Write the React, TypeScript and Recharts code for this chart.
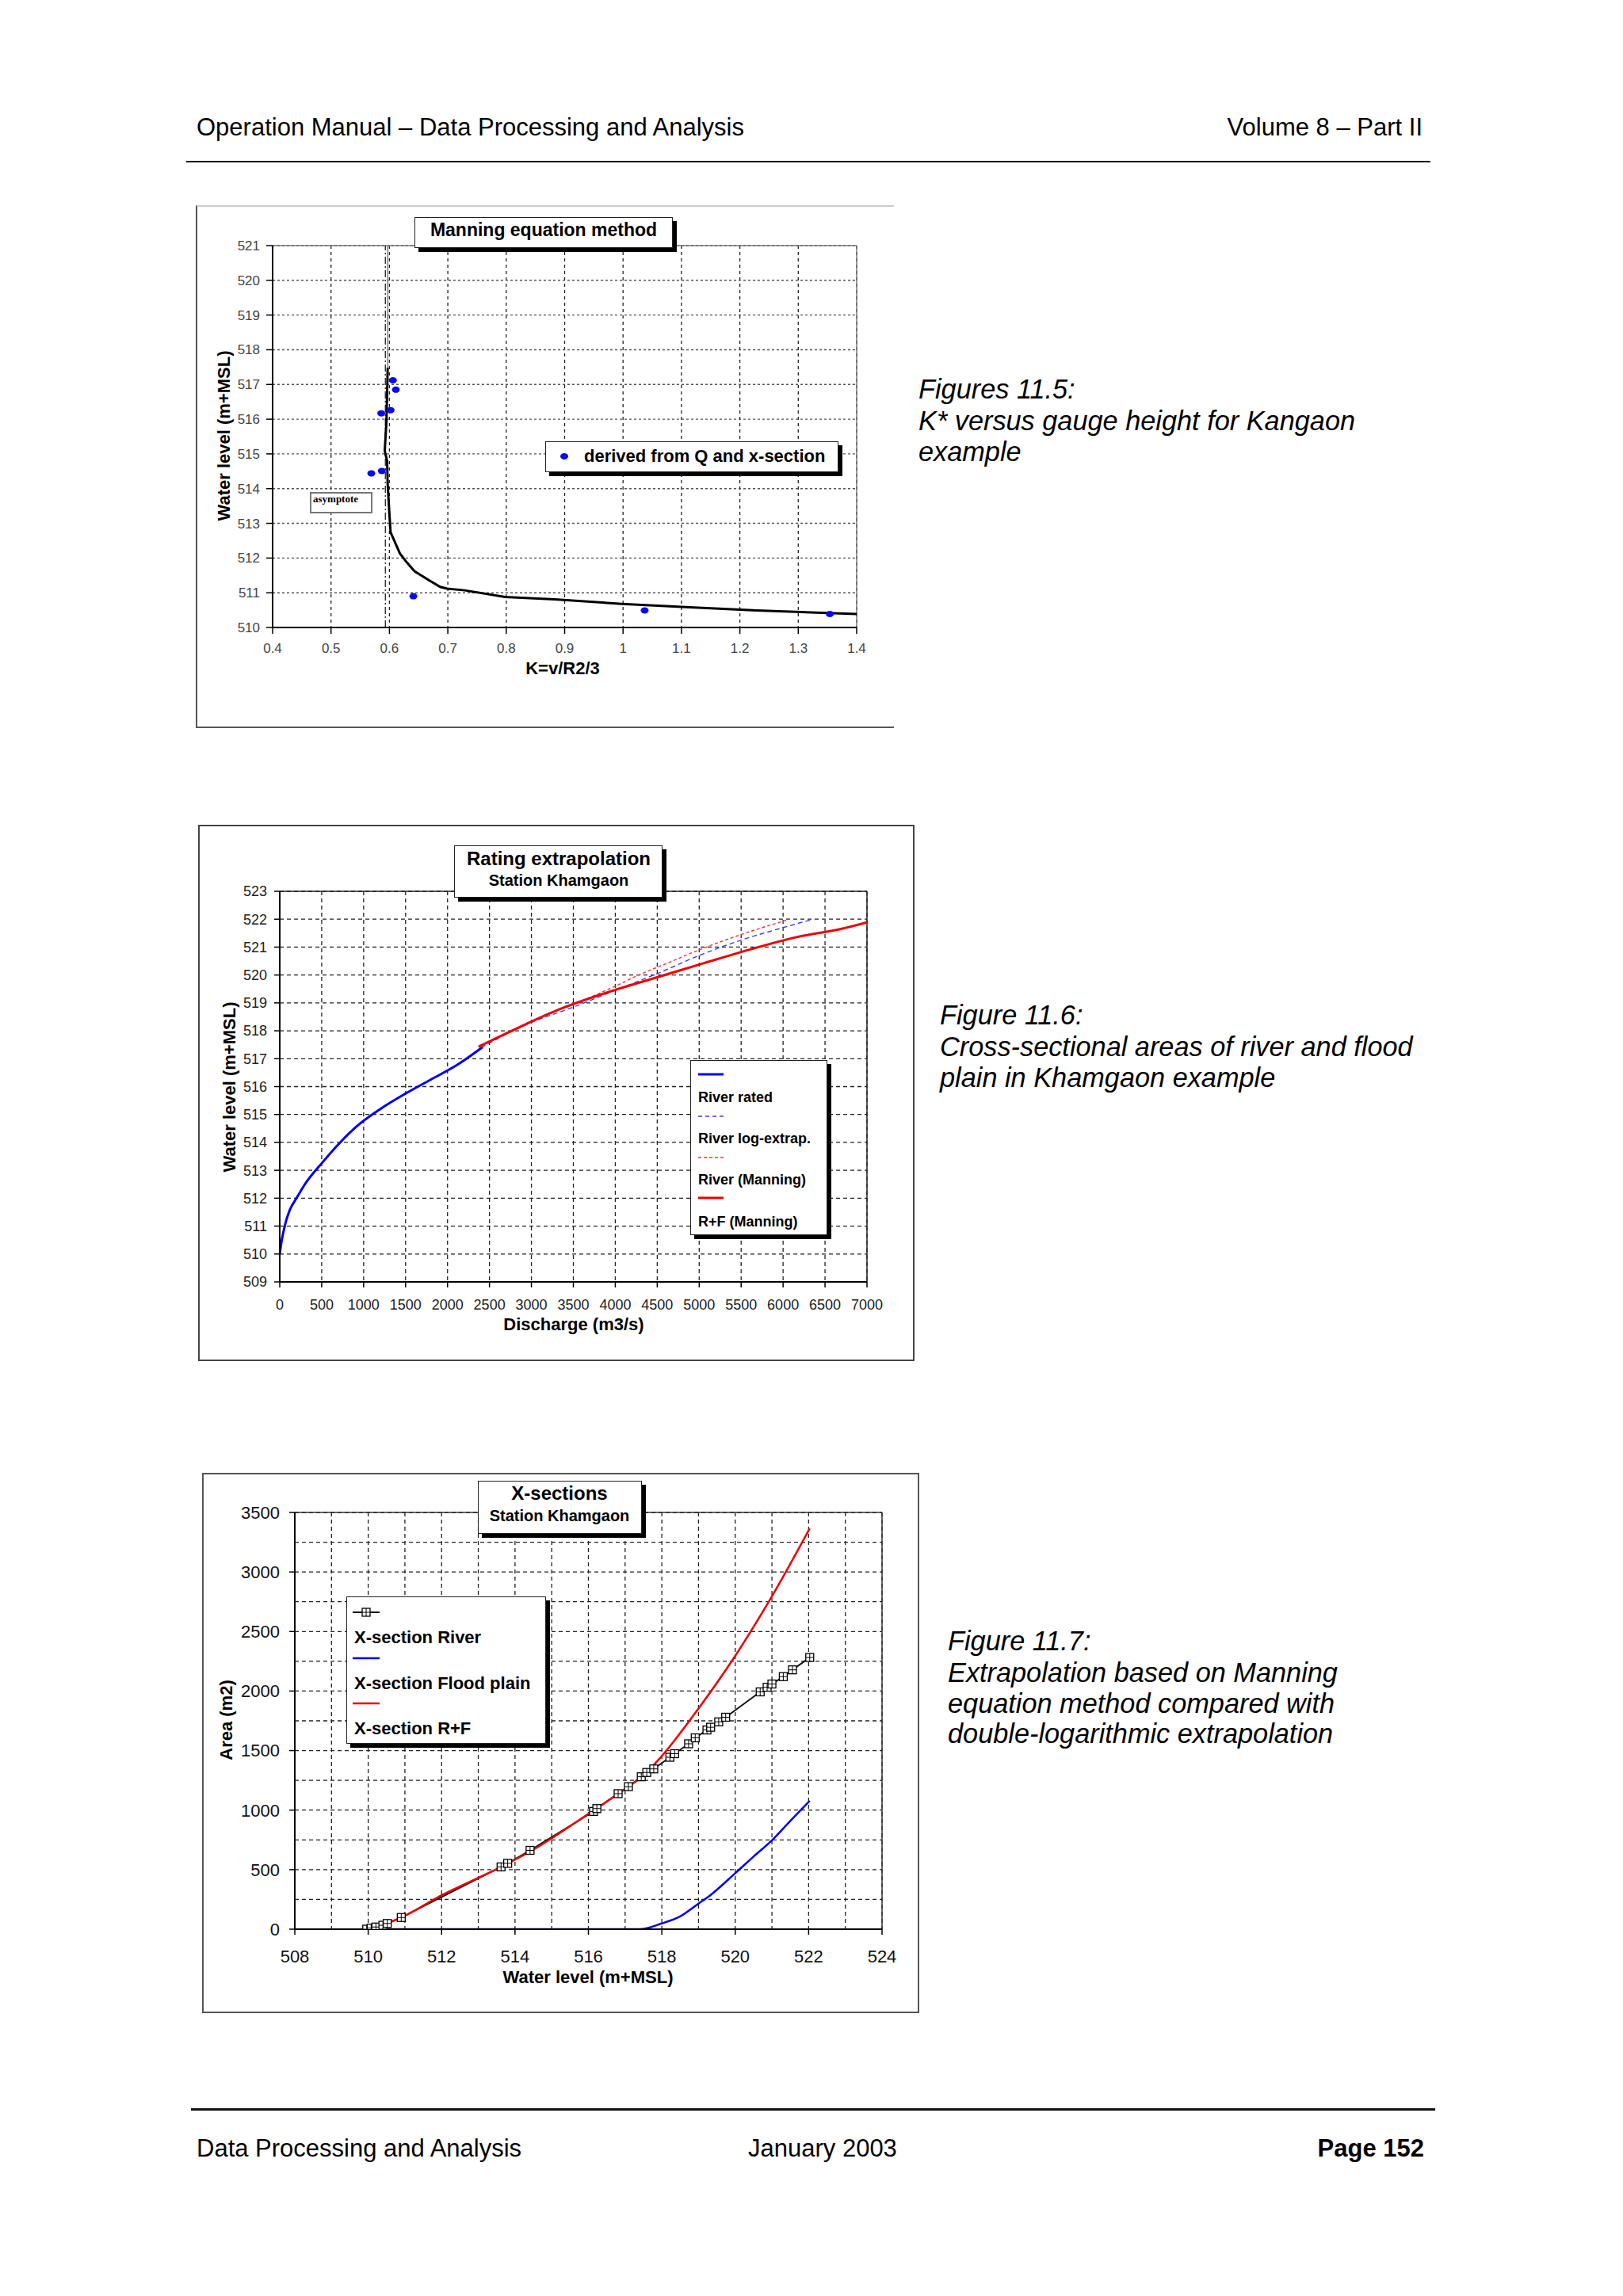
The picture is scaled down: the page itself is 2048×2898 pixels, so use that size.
import React from "react";
import {
  ComposedChart,
  Line,
  Scatter,
  XAxis,
  YAxis,
  CartesianGrid,
  ReferenceLine,
} from "recharts";

const FONT = '"Liberation Sans", Arial, Helvetica, sans-serif';
const SERIF = '"Liberation Serif", "Times New Roman", serif';

// ---- Figure 11.5: K versus gauge height ----
const kTicks = [0.4, 0.5, 0.6, 0.7, 0.8, 0.9, 1, 1.1, 1.2, 1.3, 1.4];
const kMinorTicks = [0.45, 0.55, 0.65, 0.75, 0.85, 0.95, 1.05, 1.15, 1.25, 1.35];
const gaugeTicks = [510, 511, 512, 513, 514, 515, 516, 517, 518, 519, 520, 521];
const gaugeMinorTicks = [510.5, 511.5, 512.5, 513.5, 514.5, 515.5, 516.5, 517.5, 518.5, 519.5, 520.5];

const curveK = [0.597, 0.595, 0.592, 0.596, 0.597, 0.6, 0.602, 0.618, 0.63, 0.643, 0.668, 0.687, 0.699, 0.729, 0.798, 0.883, 0.998, 1.114, 1.229, 1.4];
const curveLevel = [517.48, 515.96, 515.09, 514.8, 514.13, 513.26, 512.74, 512.13, 511.87, 511.62, 511.36, 511.17, 511.12, 511.07, 510.88, 510.81, 510.68, 510.58, 510.49, 510.39];

const obsK = [0.606, 0.611, 0.602, 0.586, 0.569, 0.587, 0.641, 1.037, 1.354];
const obsLevel = [517.12, 516.85, 516.26, 516.17, 514.44, 514.51, 510.9, 510.49, 510.39];

const asymptoteK = 0.593;
const greyK = 0.597;
const greyLevels = [517.48, 521];

// ---- Figure 11.6: rating extrapolation ----
const qTicks = [0, 500, 1000, 1500, 2000, 2500, 3000, 3500, 4000, 4500, 5000, 5500, 6000, 6500, 7000];
const qMinorTicks = [250, 750, 1250, 1750, 2250, 2750, 3250, 3750, 4250, 4750, 5250, 5750, 6250, 6750];
const ratingTicks = [509, 510, 511, 512, 513, 514, 515, 516, 517, 518, 519, 520, 521, 522, 523];
const ratingMinorTicks = [509.5, 510.5, 511.5, 512.5, 513.5, 514.5, 515.5, 516.5, 517.5, 518.5, 519.5, 520.5, 521.5, 522.5];

const ratedQ = [0, 22, 66, 120, 200, 300, 500, 720, 915, 1200, 1500, 1800, 2100, 2420];
const ratedLevel = [510.0, 510.46, 511.08, 511.58, 512.0, 512.5, 513.25, 514.0, 514.57, 515.2, 515.75, 516.25, 516.75, 517.42];

const logQ = [2400, 3000, 3500, 4000, 4500, 5000, 5500, 6000, 6360];
const logLevel = [517.4, 518.3, 518.85, 519.45, 520.05, 520.7, 521.25, 521.7, 522.0];

const riverManQ = [2400, 3000, 3500, 4000, 4280, 4600, 5000, 5500, 6080];
const riverManLevel = [517.45, 518.35, 518.95, 519.6, 520.0, 520.4, 520.9, 521.45, 522.0];

const rfManQ = [2370, 2800, 3300, 3950, 4500, 5050, 5600, 6150, 6700, 7000];
const rfManLevel = [517.43, 518.05, 518.73, 519.42, 519.92, 520.42, 520.91, 521.35, 521.66, 521.89];

// ---- Figure 11.7: cross-sections ----
const wlTicks = [508, 510, 512, 514, 516, 518, 520, 522, 524];
const wlGrid = [508, 509, 510, 511, 512, 513, 514, 515, 516, 517, 518, 519, 520, 521, 522, 523, 524];
const areaTicks = [0, 500, 1000, 1500, 2000, 2500, 3000, 3500];
const areaGrid = [0, 250, 500, 750, 1000, 1250, 1500, 1750, 2000, 2250, 2500, 2750, 3000, 3250, 3500];

const riverWl = [509.96, 510.08, 510.21, 510.4, 510.52, 510.9, 513.62, 513.8, 514.41, 516.14, 516.23, 516.81, 517.09, 517.44, 517.59, 517.78, 518.22, 518.35, 518.73, 518.91, 519.23, 519.33, 519.55, 519.74, 520.68, 520.87, 521.0, 521.31, 521.56, 522.03];
const riverArea = [0, 9, 18, 33, 48, 98, 523, 553, 662, 989, 1013, 1138, 1197, 1280, 1316, 1346, 1444, 1474, 1557, 1607, 1673, 1696, 1741, 1780, 1993, 2032, 2059, 2121, 2178, 2282];

const floodWl = [510.0, 517.4, 518.0, 518.5, 519.0, 519.3, 520.0, 520.5, 521.0, 521.5, 522.03];
const floodArea = [0, 0, 48, 107, 215, 280, 470, 610, 746, 909, 1078];

const rfWl = [510.0, 510.9, 512.0, 513.62, 514.44, 516.14, 517.09, 517.46, 517.97, 518.98, 519.99, 521.0, 522.03];
const rfArea = [0, 98, 285, 523, 657, 998, 1197, 1280, 1444, 1845, 2291, 2796, 3366];

const pts = (xs: number[], ys: number[]) => xs.map((x, i) => ({ x, y: ys[i] }));

const AXIS = { stroke: "#000", strokeWidth: 2 };
const TICKLINE = { stroke: "#000", strokeWidth: 1.5 };

function Txt({ x, base, size, bold, italic, align = "left", color = "#000", family = FONT, children }: any) {
  const style: React.CSSProperties = {
    position: "absolute",
    top: base - 0.8465 * size,
    fontSize: size,
    lineHeight: `${size}px`,
    fontFamily: family,
    fontWeight: bold ? 700 : 400,
    fontStyle: italic ? "italic" : "normal",
    color,
    whiteSpace: "nowrap",
  };
  if (align === "left") style.left = x;
  else if (align === "right") style.right = 2048 - x;
  else {
    style.left = x;
    style.transform = "translateX(-50%)";
  }
  return <div style={style}>{children}</div>;
}

function VTxt({ cx, cy, size, children }: any) {
  return (
    <div
      style={{
        position: "absolute",
        left: cx,
        top: cy,
        transform: "translate(-50%, -50%) rotate(-90deg)",
        fontSize: size,
        lineHeight: `${size}px`,
        fontFamily: FONT,
        fontWeight: 700,
        whiteSpace: "nowrap",
      }}
    >
      {children}
    </div>
  );
}

function Box({ x, y, w, h, shadow = 5, border = "1px solid #222" }: any) {
  return (
    <div
      style={{
        position: "absolute",
        left: x,
        top: y,
        width: w,
        height: h,
        boxSizing: "border-box",
        border,
        background: "#fff",
        boxShadow: shadow ? `${shadow}px ${shadow}px 0 #000` : "none",
      }}
    />
  );
}

function Rule({ x1, x2, y, h }: any) {
  return <div style={{ position: "absolute", left: x1, top: y, width: x2 - x1, height: h, background: "#111" }} />;
}

function SquareMark({ cx, cy }: any) {
  return (
    <g>
      <rect x={cx - 5} y={cy - 5} width={10} height={10} fill="#fff" stroke="#000" strokeWidth={1.3} />
      <line x1={cx - 5} y1={cy} x2={cx + 5} y2={cy} stroke="#000" strokeWidth={1} />
      <line x1={cx} y1={cy - 5} x2={cx} y2={cy + 5} stroke="#000" strokeWidth={1} />
    </g>
  );
}

function Sample({ x1, x2, y, color, width = 3, dash, marker }: any) {
  const w = x2 - x1;
  return (
    <svg style={{ position: "absolute", left: x1, top: y - 7 }} width={w} height={14}>
      <line x1={0} y1={7} x2={w} y2={7} stroke={color} strokeWidth={width} strokeDasharray={dash} />
      {marker && <SquareMark cx={w / 2} cy={7} />}
    </svg>
  );
}

const renderSquare = (p: any) => {
  if (p.cx == null || p.cy == null) return <g key={p.index} />;
  return <SquareMark key={p.index} cx={p.cx} cy={p.cy} />;
};

const renderDot = (p: any) => <ellipse cx={p.cx} cy={p.cy} rx={5} ry={4} fill="#0a0af0" />;

function KChart() {
  return (
    <div style={{ position: "absolute", left: 247, top: 259 }}>
      <ComposedChart width={881} height={660} margin={{ top: 51, right: 47, left: 0, bottom: 0 }}>
        <CartesianGrid horizontal={false} stroke="#222" strokeDasharray="4 4" strokeWidth={1.3} />
        <CartesianGrid vertical={false} stroke="#555" strokeDasharray="3 3" strokeWidth={1.4} />
        <XAxis
          type="number"
          dataKey="x"
          domain={[0.4, 1.4]}
          ticks={kTicks}
          interval={0}
          allowDataOverflow
          height={127}
          tickSize={8}
          tickMargin={12}
          axisLine={AXIS}
          tickLine={TICKLINE}
          tick={{ fill: "#444", fontSize: 17, fontFamily: FONT }}
        />
        <XAxis xAxisId="minor" type="number" dataKey="x" domain={[0.4, 1.4]} ticks={kMinorTicks} interval={0} allowDataOverflow mirror height={0} tick={false} axisLine={false} tickSize={5} tickLine={TICKLINE} />
        <YAxis
          type="number"
          dataKey="y"
          domain={[510, 521]}
          ticks={gaugeTicks}
          interval={0}
          allowDataOverflow
          width={97}
          tickSize={8}
          tickMargin={8}
          axisLine={AXIS}
          tickLine={TICKLINE}
          tick={{ fill: "#444", fontSize: 17, fontFamily: FONT }}
        />
        <YAxis yAxisId="minor" type="number" dataKey="y" domain={[510, 521]} ticks={gaugeMinorTicks} interval={0} allowDataOverflow mirror width={0} tick={false} axisLine={false} tickSize={5} tickLine={TICKLINE} />
        <ReferenceLine y={521} stroke="#777" strokeWidth={1.5} />
        <ReferenceLine x={1.4} stroke="#777" strokeWidth={1.5} />
        <ReferenceLine x={asymptoteK} stroke="#111" strokeWidth={1.2} strokeDasharray="9 3 2 3" />
        <ReferenceLine segment={[{ x: greyK, y: greyLevels[0] }, { x: greyK, y: greyLevels[1] }]} stroke="#9a9a9a" strokeWidth={2} />
        <Line data={pts(curveK, curveLevel)} dataKey="y" type="linear" stroke="#000" strokeWidth={3} dot={false} isAnimationActive={false} />
        <Scatter data={pts(obsK, obsLevel)} dataKey="y" shape={renderDot} isAnimationActive={false} />
      </ComposedChart>
    </div>
  );
}

function RatingChart() {
  const tick = { fill: "#222", fontSize: 18, fontFamily: FONT };
  return (
    <div style={{ position: "absolute", left: 250, top: 1041 }}>
      <ComposedChart width={904} height={677} margin={{ top: 84, right: 60, left: 0, bottom: 0 }}>
        <CartesianGrid stroke="#222" strokeDasharray="5 4" strokeWidth={1.3} />
        <XAxis type="number" dataKey="x" domain={[0, 7000]} ticks={qTicks} interval={0} allowDataOverflow height={100} tickSize={7} tickMargin={15} axisLine={AXIS} tickLine={TICKLINE} tick={tick} />
        <XAxis xAxisId="minor" type="number" dataKey="x" domain={[0, 7000]} ticks={qMinorTicks} interval={0} allowDataOverflow mirror height={0} tick={false} axisLine={false} tickSize={5} tickLine={TICKLINE} />
        <YAxis type="number" dataKey="y" domain={[509, 523]} ticks={ratingTicks} interval={0} allowDataOverflow width={103} tickSize={7} tickMargin={9} axisLine={AXIS} tickLine={TICKLINE} tick={tick} />
        <YAxis yAxisId="minor" type="number" dataKey="y" domain={[509, 523]} ticks={ratingMinorTicks} interval={0} allowDataOverflow mirror width={0} tick={false} axisLine={false} tickSize={5} tickLine={TICKLINE} />
        <ReferenceLine y={523} stroke="#222" strokeWidth={1.5} />
        <ReferenceLine x={7000} stroke="#222" strokeWidth={1.5} />
        <Line data={pts(ratedQ, ratedLevel)} dataKey="y" type="monotone" stroke="#0000ee" strokeWidth={3} dot={false} isAnimationActive={false} />
        <Line data={pts(logQ, logLevel)} dataKey="y" type="monotone" stroke="#3a3aff" strokeWidth={1.4} strokeDasharray="6 4" dot={false} isAnimationActive={false} />
        <Line data={pts(riverManQ, riverManLevel)} dataKey="y" type="monotone" stroke="#ff3030" strokeWidth={1.4} strokeDasharray="4 3" dot={false} isAnimationActive={false} />
        <Line data={pts(rfManQ, rfManLevel)} dataKey="y" type="monotone" stroke="#ee0000" strokeWidth={3} dot={false} isAnimationActive={false} />
      </ComposedChart>
    </div>
  );
}

function SectionChart() {
  const tick = { fill: "#111", fontSize: 22, fontFamily: FONT };
  return (
    <div style={{ position: "absolute", left: 255, top: 1859 }}>
      <ComposedChart width={905} height={682} margin={{ top: 50, right: 47, left: 0, bottom: 0 }}>
        <CartesianGrid stroke="#222" strokeDasharray="5 4" strokeWidth={1.3} verticalValues={wlGrid} horizontalValues={areaGrid} />
        <XAxis type="number" dataKey="x" domain={[508, 524]} ticks={wlTicks} interval={0} allowDataOverflow height={106} tickSize={7} tickMargin={19} axisLine={AXIS} tickLine={TICKLINE} tick={tick} />
        <YAxis type="number" dataKey="y" domain={[0, 3500]} ticks={areaTicks} interval={0} allowDataOverflow width={117} tickSize={7} tickMargin={12} axisLine={AXIS} tickLine={TICKLINE} tick={tick} />
        <ReferenceLine y={3500} stroke="#333" strokeWidth={1.5} />
        <ReferenceLine x={524} stroke="#333" strokeWidth={1.5} />
        <Line data={pts(riverWl, riverArea)} dataKey="y" type="linear" stroke="#111" strokeWidth={2} dot={renderSquare} isAnimationActive={false} />
        <Line data={pts(floodWl, floodArea)} dataKey="y" type="monotone" stroke="#0000ee" strokeWidth={2.5} dot={false} isAnimationActive={false} />
        <Line data={pts(rfWl, rfArea)} dataKey="y" type="monotone" stroke="#ee0000" strokeWidth={2.5} dot={false} isAnimationActive={false} />
      </ComposedChart>
    </div>
  );
}

export default function App() {
  return (
    <div style={{ position: "absolute", left: 0, top: 0, width: 2048, height: 2898, background: "#fff", overflow: "hidden" }}>
      {/* page header */}
      <Txt x={248} base={171} size={31}>Operation Manual – Data Processing and Analysis</Txt>
      <Txt x={1795} base={171} size={31} align="right">Volume 8 – Part II</Txt>
      <Rule x1={235} x2={1805} y={203} h={2} />

      {/* figure 11.5 */}
      <div style={{ position: "absolute", left: 247, top: 259, width: 881, height: 660, boxSizing: "border-box", borderLeft: "2px solid #555", borderTop: "2px solid #ccc", borderBottom: "2px solid #555" }} />
      <KChart />
      <Box x={523} y={274} w={326} h={39} />
      <Txt x={686} base={298} size={23} bold align="center">Manning equation method</Txt>
      <Box x={688} y={557} w={370} h={39} />
      <svg style={{ position: "absolute", left: 702, top: 568 }} width={20} height={16}>
        <ellipse cx={10} cy={8} rx={5} ry={4} fill="#0a0af0" />
      </svg>
      <Txt x={737} base={584} size={22} bold>derived from Q and x-section</Txt>
      <Box x={391} y={621} w={79} h={27} shadow={0} border="2px solid #777" />
      <Txt x={395} base={634} size={13} bold family={SERIF}>asymptote</Txt>
      <VTxt cx={283} cy={550} size={22}>Water level (m+MSL)</VTxt>
      <Txt x={710} base={852} size={22} bold align="center">K=v/R2/3</Txt>

      <Txt x={1159} base={503} size={34.3} italic>Figures 11.5:</Txt>
      <Txt x={1159} base={543} size={34.3} italic>K* versus gauge height for Kangaon</Txt>
      <Txt x={1159} base={582} size={34.3} italic>example</Txt>

      {/* figure 11.6 */}
      <div style={{ position: "absolute", left: 250, top: 1041, width: 904, height: 677, boxSizing: "border-box", border: "2px solid #444" }} />
      <RatingChart />
      <Box x={573} y={1067} w={263} h={66} />
      <Txt x={705} base={1092} size={24} bold align="center">Rating extrapolation</Txt>
      <Txt x={705} base={1118} size={20} bold align="center">Station Khamgaon</Txt>
      <Box x={871} y={1338} w={173} h={221} />
      <Sample x1={881} x2={913} y={1356} color="#0000ee" width={3} />
      <Txt x={881} base={1391} size={18} bold>River rated</Txt>
      <Sample x1={881} x2={913} y={1409} color="#3a3aff" width={1.4} dash="5 4" />
      <Txt x={881} base={1443} size={18} bold>River log-extrap.</Txt>
      <Sample x1={881} x2={913} y={1461} color="#ff3030" width={1.4} dash="4 3" />
      <Txt x={881} base={1495} size={18} bold>River (Manning)</Txt>
      <Sample x1={881} x2={913} y={1512} color="#ee0000" width={3} />
      <Txt x={881} base={1548} size={18} bold>R+F (Manning)</Txt>
      <VTxt cx={290} cy={1372} size={22}>Water level (m+MSL)</VTxt>
      <Txt x={724} base={1680} size={22} bold align="center">Discharge (m3/s)</Txt>

      <Txt x={1186} base={1293} size={34.3} italic>Figure 11.6:</Txt>
      <Txt x={1186} base={1333} size={34.3} italic>Cross-sectional areas of river and flood</Txt>
      <Txt x={1186} base={1372} size={34.3} italic>plain in Khamgaon example</Txt>

      {/* figure 11.7 */}
      <div style={{ position: "absolute", left: 255, top: 1859, width: 905, height: 682, boxSizing: "border-box", border: "2px solid #555" }} />
      <SectionChart />
      <Box x={603} y={1869} w={207} h={67} />
      <Txt x={706} base={1893} size={24} bold align="center">X-sections</Txt>
      <Txt x={706} base={1920} size={20} bold align="center">Station Khamgaon</Txt>
      <Box x={437} y={2015} w={252} h={186} />
      <Sample x1={445} x2={479} y={2035} color="#111" width={2} marker />
      <Txt x={447} base={2075} size={22} bold>X-section River</Txt>
      <Sample x1={445} x2={479} y={2093} color="#0000ee" width={2.5} />
      <Txt x={447} base={2133} size={22} bold>X-section Flood plain</Txt>
      <Sample x1={445} x2={479} y={2150} color="#ee0000" width={2.5} />
      <Txt x={447} base={2190} size={22} bold>X-section R+F</Txt>
      <VTxt cx={286} cy={2171} size={22}>Area (m2)</VTxt>
      <Txt x={742} base={2504} size={22} bold align="center">Water level (m+MSL)</Txt>

      <Txt x={1196} base={2083} size={34.3} italic>Figure 11.7:</Txt>
      <Txt x={1196} base={2123} size={34.3} italic>Extrapolation based on Manning</Txt>
      <Txt x={1196} base={2162} size={34.3} italic>equation method compared with</Txt>
      <Txt x={1196} base={2200} size={34.3} italic>double-logarithmic extrapolation</Txt>

      {/* page footer */}
      <Rule x1={241} x2={1811} y={2661} h={3} />
      <Txt x={248} base={2722} size={31}>Data Processing and Analysis</Txt>
      <Txt x={944} base={2722} size={31}>January 2003</Txt>
      <Txt x={1797} base={2722} size={31} bold align="right">Page 152</Txt>
    </div>
  );
}
